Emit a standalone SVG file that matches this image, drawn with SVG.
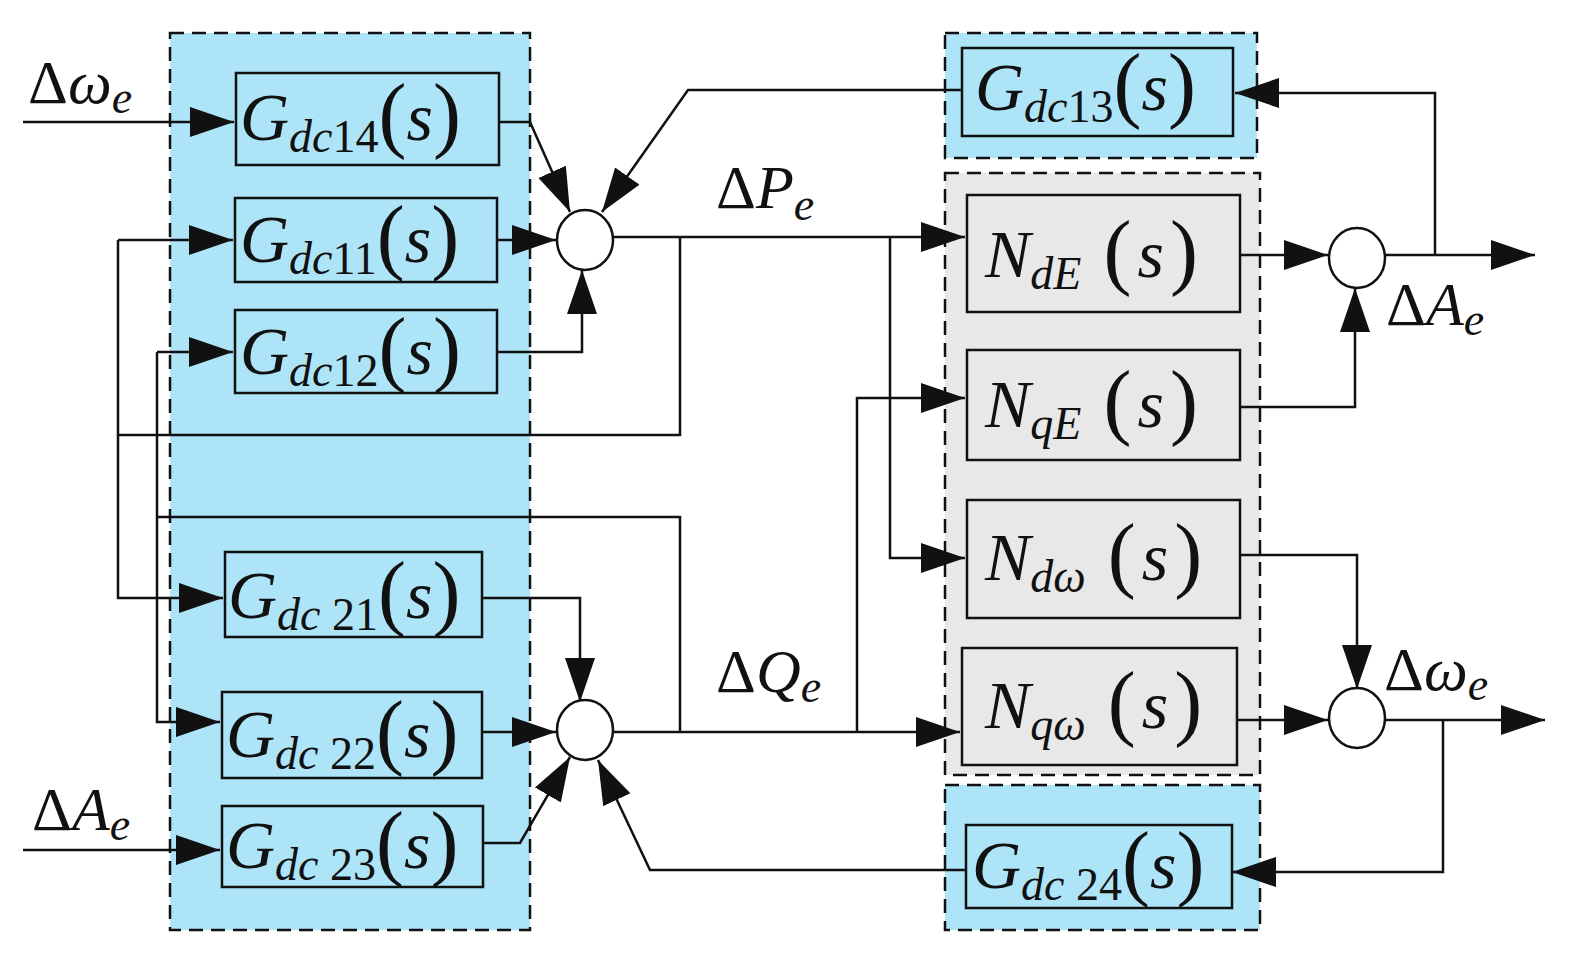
<svg xmlns="http://www.w3.org/2000/svg" width="1590" height="971" viewBox="0 0 1590 971" font-family="'Liberation Serif','DejaVu Serif',serif">
<style>
.blue{fill:#ade4f7;stroke:#111;stroke-width:2.5;stroke-dasharray:14 8}
.gray{fill:#e8e8e8;stroke:#111;stroke-width:2.5;stroke-dasharray:14 8}
.box{stroke:#111;stroke-width:2.5}
.bb{fill:#ade4f7}.gb{fill:#e8e8e8}
.c{fill:#fff;stroke:#111;stroke-width:2.5}
.w{fill:none;stroke:#111;stroke-width:2.5}
text{font-family:'Liberation Serif','Times New Roman',serif;fill:#111}
.big{font-size:68px}
.i{font-style:italic}
.sub{font-size:46px}
.p{font-size:84px}
.lab{font-size:62px}
</style>
<defs>
<marker id="a" markerUnits="userSpaceOnUse" markerWidth="46" markerHeight="32" refX="44" refY="15" orient="auto">
<path d="M0,0 L44,15 L0,30 Z" fill="#111"/>
</marker>
</defs>
<g id="panels">
<rect class="blue" x="170" y="33" width="360" height="897"/>
<rect class="blue" x="945" y="33" width="312" height="125"/>
<rect class="gray" x="945" y="173" width="315" height="602"/>
<rect class="blue" x="945" y="785" width="315" height="145"/>
</g>
<g id="connectors" class="w">
<path d="M23,122 H234" marker-end="url(#a)"/>
<path d="M23,850 H220" marker-end="url(#a)"/>
<path d="M118,240 H233" marker-end="url(#a)"/>
<path d="M118,240 V598 H223" marker-end="url(#a)"/>
<path d="M118,435 H680 V237"/>
<path d="M157,352 H233" marker-end="url(#a)"/>
<path d="M157,352 V722 H220" marker-end="url(#a)"/>
<path d="M157,517 H680 V732"/>
<path d="M499,122 H530 L570,212" marker-end="url(#a)"/>
<path d="M497,240 H556" marker-end="url(#a)"/>
<path d="M497,352 H582 V270" marker-end="url(#a)"/>
<path d="M482,598 H580 V702" marker-end="url(#a)"/>
<path d="M482,732 H556" marker-end="url(#a)"/>
<path d="M483,843 H520 L570,757" marker-end="url(#a)"/>
<path d="M962,90 H688 L602,212" marker-end="url(#a)"/>
<path d="M613,237 H965" marker-end="url(#a)"/>
<path d="M890,237 V558 H965" marker-end="url(#a)"/>
<path d="M613,732 H960" marker-end="url(#a)"/>
<path d="M857,732 V398 H965" marker-end="url(#a)"/>
<path d="M1240,255 H1328" marker-end="url(#a)"/>
<path d="M1240,407 H1355 V288" marker-end="url(#a)"/>
<path d="M1240,555 H1357 V689" marker-end="url(#a)"/>
<path d="M1237,720 H1328" marker-end="url(#a)"/>
<path d="M1385,255 H1535" marker-end="url(#a)"/>
<path d="M1435,255 V93 H1235" marker-end="url(#a)"/>
<path d="M1385,720 H1545" marker-end="url(#a)"/>
<path d="M1443,720 V872 H1232" marker-end="url(#a)"/>
<path d="M966,870 H650 L598,760" marker-end="url(#a)"/>
</g>
<g id="sum1"><ellipse class="c" cx="585" cy="240" rx="28" ry="30"/></g>
<g id="sum2"><ellipse class="c" cx="585" cy="730" rx="28" ry="30"/></g>
<g id="sum3"><ellipse class="c" cx="1357" cy="258" rx="28" ry="30"/></g>
<g id="sum4"><ellipse class="c" cx="1357" cy="718" rx="28" ry="30"/></g>
<g id="gdc14"><rect class="box bb" x="236" y="73" width="263" height="92"/><text class="big" x="240" y="140"><tspan class="i">G</tspan><tspan class="sub" dy="12"><tspan class="i">dc</tspan>14</tspan><tspan class="p" dy="-10">(</tspan><tspan class="i" dy="-2">s</tspan><tspan class="p" dy="2">)</tspan></text></g>
<g id="gdc11"><rect class="box bb" x="235" y="198" width="262" height="84"/><text class="big" x="240" y="262"><tspan class="i">G</tspan><tspan class="sub" dy="12"><tspan class="i">dc</tspan>11</tspan><tspan class="p" dy="-10">(</tspan><tspan class="i" dy="-2">s</tspan><tspan class="p" dy="2">)</tspan></text></g>
<g id="gdc12"><rect class="box bb" x="235" y="310" width="262" height="83"/><text class="big" x="240" y="374"><tspan class="i">G</tspan><tspan class="sub" dy="12"><tspan class="i">dc</tspan>12</tspan><tspan class="p" dy="-10">(</tspan><tspan class="i" dy="-2">s</tspan><tspan class="p" dy="2">)</tspan></text></g>
<g id="gdc21"><rect class="box bb" x="225" y="552" width="257" height="85"/><text class="big" x="228" y="618"><tspan class="i">G</tspan><tspan class="sub" dy="12"><tspan class="i">dc</tspan> 21</tspan><tspan class="p" dy="-10">(</tspan><tspan class="i" dy="-2">s</tspan><tspan class="p" dy="2">)</tspan></text></g>
<g id="gdc22"><rect class="box bb" x="222" y="692" width="260" height="86"/><text class="big" x="226" y="757"><tspan class="i">G</tspan><tspan class="sub" dy="12"><tspan class="i">dc</tspan> 22</tspan><tspan class="p" dy="-10">(</tspan><tspan class="i" dy="-2">s</tspan><tspan class="p" dy="2">)</tspan></text></g>
<g id="gdc23"><rect class="box bb" x="222" y="806" width="261" height="81"/><text class="big" x="226" y="868"><tspan class="i">G</tspan><tspan class="sub" dy="12"><tspan class="i">dc</tspan> 23</tspan><tspan class="p" dy="-10">(</tspan><tspan class="i" dy="-2">s</tspan><tspan class="p" dy="2">)</tspan></text></g>
<g id="gdc13"><rect class="box bb" x="962" y="48" width="271" height="88"/><text class="big" x="975" y="110"><tspan class="i">G</tspan><tspan class="sub" dy="12"><tspan class="i">dc</tspan>13</tspan><tspan class="p" dy="-10">(</tspan><tspan class="i" dy="-2">s</tspan><tspan class="p" dy="2">)</tspan></text></g>
<g id="gdc24"><rect class="box bb" x="966" y="825" width="266" height="83"/><text class="big" x="972" y="888"><tspan class="i">G</tspan><tspan class="sub" dy="12"><tspan class="i">dc</tspan> 24</tspan><tspan class="p" dy="-10">(</tspan><tspan class="i" dy="-2">s</tspan><tspan class="p" dy="2">)</tspan></text></g>
<g id="nde"><rect class="box gb" x="967" y="195" width="273" height="117"/><text class="big" x="985" y="277"><tspan class="i">N</tspan><tspan class="sub i" dy="12">dE</tspan><tspan class="p" dy="-10" dx="22">(</tspan><tspan class="i" dx="6" dy="-2">s</tspan><tspan class="p" dx="6" dy="2">)</tspan></text></g>
<g id="nqe"><rect class="box gb" x="967" y="350" width="273" height="110"/><text class="big" x="985" y="427"><tspan class="i">N</tspan><tspan class="sub i" dy="12">qE</tspan><tspan class="p" dy="-10" dx="22">(</tspan><tspan class="i" dx="6" dy="-2">s</tspan><tspan class="p" dx="6" dy="2">)</tspan></text></g>
<g id="ndw"><rect class="box gb" x="967" y="500" width="273" height="118"/><text class="big" x="985" y="580"><tspan class="i">N</tspan><tspan class="sub i" dy="12">dω</tspan><tspan class="p" dy="-10" dx="22">(</tspan><tspan class="i" dx="6" dy="-2">s</tspan><tspan class="p" dx="6" dy="2">)</tspan></text></g>
<g id="nqw"><rect class="box gb" x="962" y="648" width="275" height="117"/><text class="big" x="985" y="728"><tspan class="i">N</tspan><tspan class="sub i" dy="12">qω</tspan><tspan class="p" dy="-10" dx="22">(</tspan><tspan class="i" dx="6" dy="-2">s</tspan><tspan class="p" dx="6" dy="2">)</tspan></text></g>
<g id="labels">
<text class="lab" x="28" y="103">Δ<tspan class="i">ω</tspan><tspan class="sub i" dy="10">e</tspan></text>
<text class="lab" x="32" y="830">Δ<tspan class="i">A</tspan><tspan class="sub i" dy="10">e</tspan></text>
<text class="lab" x="716" y="208">Δ<tspan class="i">P</tspan><tspan class="sub i" dy="12">e</tspan></text>
<text class="lab" x="716" y="692">Δ<tspan class="i">Q</tspan><tspan class="sub i" dy="10">e</tspan></text>
<text class="lab" x="1386" y="325">Δ<tspan class="i">A</tspan><tspan class="sub i" dy="10">e</tspan></text>
<text class="lab" x="1384" y="690">Δ<tspan class="i">ω</tspan><tspan class="sub i" dy="10">e</tspan></text>
</g>
</svg>
